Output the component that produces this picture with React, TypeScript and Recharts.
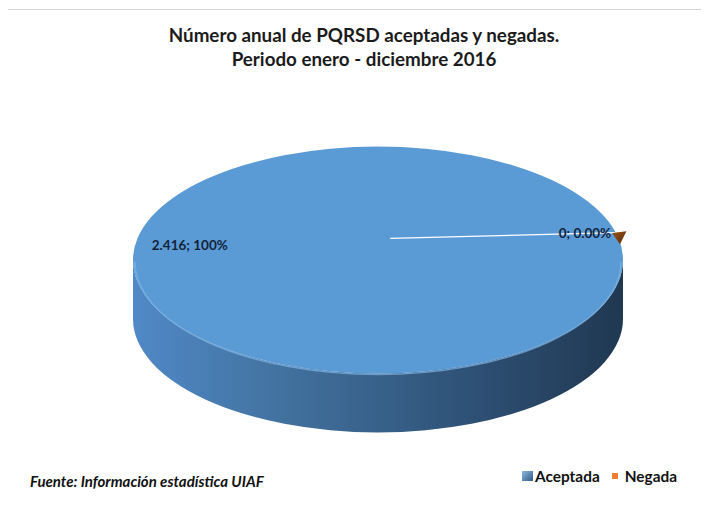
import React from "react";
import { PieChart, Pie, Cell, Legend } from "recharts";

const CATEGORIES = ["Aceptada", "Negada"];
const VALUES = [2416, 0];
const VALUE_LABELS = ["2.416", "0"];
const PERCENT_LABELS = ["100%", "0.00%"];
const COLORS = ["#5b9bd5", "#ed7d31"];

const data = CATEGORIES.map((name, i) => ({
  name,
  value: VALUES[i],
  label: `${VALUE_LABELS[i]}; ${PERCENT_LABELS[i]}`
}));

// look of the 3D pie
const TILT = 0.463;
const DEPTH = 59;
const RAD = Math.PI / 180;
const FONT = "Lato, 'Open Sans', sans-serif";

function pt(cx: number, cy: number, rx: number, ry: number, angle: number) {
  return [cx + rx * Math.cos(angle * RAD), cy - ry * Math.sin(angle * RAD)];
}

function Slice3D(props: any) {
  const { cx, cy, outerRadius, startAngle } = props;
  const value = props.value ?? props.payload?.value;
  const rx = outerRadius;
  const ry = outerRadius * TILT;

  if (!value) {
    // zero slice: Excel still shows a small cut at the rim
    const [x1, y1] = pt(cx, cy, rx * 1.045, ry * 1.045, startAngle);
    const [x2, y2] = pt(cx, cy, rx * 0.985, ry * 0.985, startAngle);
    const [x3, y3] = pt(cx, cy, rx, ry, startAngle - 5);
    return (
      <path
        d={`M${x2},${y2} L${x1},${y1} L${x3},${y3 + 2} Z`}
        fill="url(#negGrad)"
      />
    );
  }

  const left = cx - rx;
  const right = cx + rx;
  const [bx, by] = pt(cx, cy, rx, ry, startAngle);
  return (
    <g>
      <path
        d={`M${left},${cy} A${rx},${ry} 0 0 0 ${right},${cy} L${right},${cy + DEPTH} A${rx},${ry} 0 0 1 ${left},${cy + DEPTH} Z`}
        fill="url(#sideGrad)"
      />
      <ellipse cx={cx} cy={cy} rx={rx} ry={ry} fill={COLORS[0]} />
      <path
        d={`M${left + 2},${cy + 2} A${rx - 2},${ry - 1} 0 0 0 ${right - 2},${cy + 2}`}
        fill="none"
        stroke="#7fb4e4"
        strokeOpacity={0.7}
        strokeWidth={1.5}
      />
      <line x1={cx + rx * 0.05} y1={cy - ry * 0.19} x2={bx} y2={by} stroke="#ffffff" strokeWidth={1.2} />
    </g>
  );
}

function renderLabel(props: any) {
  const { cx, cy, outerRadius, startAngle, index } = props;
  const rx = outerRadius;
  const ry = outerRadius * TILT;
  const entry = data[index];
  if (entry.value > 0) {
    const [x, y] = pt(cx, cy, rx * 0.78, ry * 0.78, 184 - startAngle);
    return (
      <text x={x} y={y} textAnchor="middle" dominantBaseline="central" fontFamily={FONT} fontWeight={700} fontSize={13.5} fill="#14233a">
        {entry.label}
      </text>
    );
  }
  const [x, y] = pt(cx, cy, rx * 0.985, ry * 0.985, startAngle);
  return (
    <text x={x - 1} y={y} textAnchor="end" dominantBaseline="central" fontFamily={FONT} fontWeight={700} fontSize={13.5} fill="#14233a">
      {entry.label}
    </text>
  );
}

function LegendContent() {
  return (
    <div style={{ display: "flex", alignItems: "center", fontFamily: FONT, fontWeight: 700, fontSize: 15.4, color: "#111" }}>
      <span style={{ display: "inline-block", width: 11, height: 10, marginRight: 2, background: "linear-gradient(135deg, #8fb8e0, #2f5b8a)" }} />
      <span>{CATEGORIES[0]}</span>
      <span style={{ display: "inline-block", width: 6, height: 6, marginLeft: 12, marginRight: 7, background: COLORS[1] }} />
      <span>{CATEGORIES[1]}</span>
    </div>
  );
}

export default function App() {
  return (
    <div style={{ position: "relative", width: 709, height: 510, marginTop: -8, marginLeft: -8, background: "#fff", overflow: "hidden" }}>
      <div style={{ position: "absolute", left: 7, top: 9, width: 720, height: 520, borderLeft: "1px solid #d4d4d4", borderTop: "1px solid #d4d4d4" }} />
      <div style={{ position: "absolute", left: 0, width: 728, top: 23, textAlign: "center", fontFamily: FONT, fontWeight: 700, fontSize: 18.8, lineHeight: "24px", color: "#1b1b1b" }}>
        Número anual de PQRSD aceptadas y negadas.
        <br />
        Periodo enero - diciembre 2016
      </div>
      <div style={{ position: "absolute", left: 30, top: 472, fontFamily: FONT, fontWeight: 700, fontStyle: "italic", fontSize: 15, color: "#111" }}>
        Fuente: Información estadística UIAF
      </div>
      <PieChart width={709} height={510} margin={{ top: 0, right: 0, bottom: 0, left: 0 }} style={{ position: "absolute", left: 0, top: 0 }}>
        <defs>
          <linearGradient id="sideGrad" x1="0" y1="0" x2="1" y2="0">
            <stop offset="0%" stopColor="#5089c7" />
            <stop offset="30%" stopColor="#42729f" />
            <stop offset="65%" stopColor="#30547a" />
            <stop offset="100%" stopColor="#203851" />
          </linearGradient>
          <linearGradient id="negGrad" x1="0" y1="0" x2="1" y2="1">
            <stop offset="0%" stopColor="#9a5418" />
            <stop offset="100%" stopColor="#5a2a06" />
          </linearGradient>
        </defs>
        <Pie
          data={data}
          dataKey="value"
          nameKey="name"
          cx={378}
          cy={260}
          outerRadius={245}
          startAngle={14}
          endAngle={-346}
          stroke="none"
          shape={Slice3D}
          label={renderLabel}
          labelLine={false}
          isAnimationActive={false}
        >
          {data.map((d, i) => (
            <Cell key={d.name} fill={COLORS[i]} />
          ))}
        </Pie>
        <Legend
          content={LegendContent}
          wrapperStyle={{ position: "absolute", left: 522, top: 467, width: 180 }}
        />
      </PieChart>
    </div>
  );
}
